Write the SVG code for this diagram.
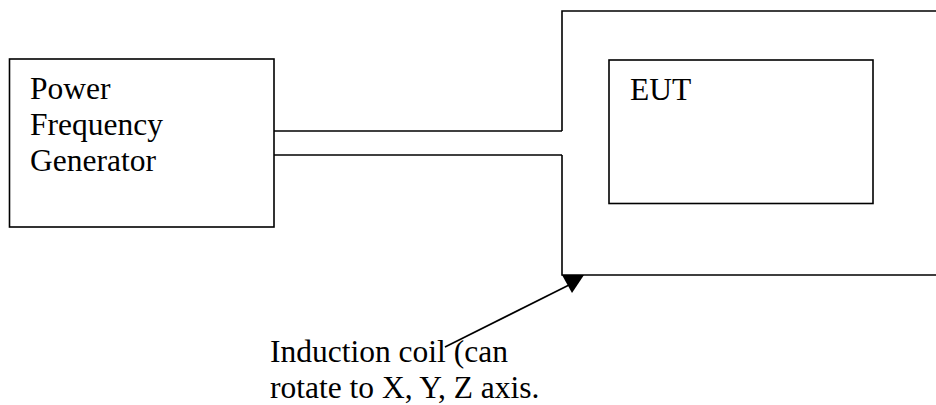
<svg xmlns="http://www.w3.org/2000/svg" width="936" height="405" viewBox="0 0 936 405">
<style>
.box{fill:#fff;stroke:#000;stroke-width:1.6}
.ln{fill:none;stroke:#000;stroke-width:1.6}
text{font-family:"Liberation Serif","Times New Roman",serif;font-size:31.5px;fill:#000}
</style>
<rect width="936" height="405" fill="#fff"/>
<g id="connectors">
<line class="ln" x1="445" y1="347" x2="569" y2="285"/>
<polygon points="562,275 584,275 572,293" fill="#000"/>
<polyline class="ln" points="274,131 562,131"/>
<polyline class="ln" points="274,155 562,155"/>
</g>
<g id="coil">
<path class="box" d="M562,131 L562,11 L937,11 L937,275 L562,275 L562,155"/>
</g>
<g id="generator">
<rect class="box" x="9.5" y="59" width="264.5" height="168"/>
<text x="30" y="99">Power</text>
<text x="30" y="135">Frequency</text>
<text x="30" y="171">Generator</text>
</g>
<g id="eut">
<rect class="box" x="609" y="60" width="264" height="143.5"/>
<text x="630" y="100">EUT</text>
</g>
<g id="label">
<text x="270" y="362">Induction coil (can</text>
<text x="270" y="398">rotate to X, Y, Z axis.</text>
</g>
</svg>
